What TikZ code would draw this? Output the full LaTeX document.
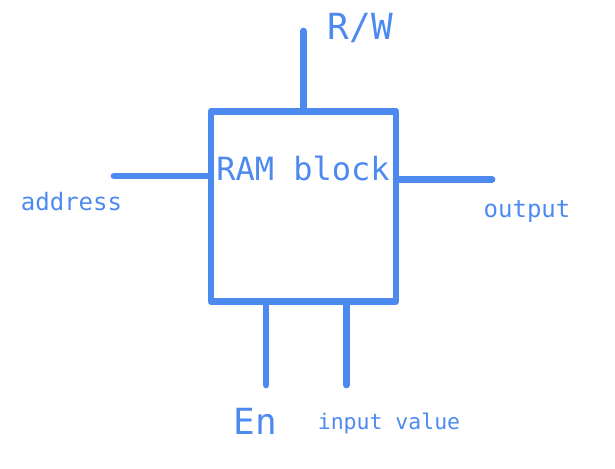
\documentclass[tikz,border=0pt]{standalone}
\usepackage{fontspec}
\setmonofont{DejaVu Sans Mono}
\definecolor{gblue}{HTML}{4D8AF0}
\tikzset{
  wire/.style={draw=gblue, line width=6.7pt, line cap=round},
  blockbox/.style={draw=gblue, line width=6.7pt, line join=round, inner sep=0pt, outer sep=0pt,
    minimum width=185pt, minimum height=190pt},
  lbl/.style={text=gblue, inner sep=0pt, outer sep=0pt, anchor=base, font=\ttfamily}
}
\begin{document}
\begin{tikzpicture}[x=1pt,y=-1pt]
\useasboundingbox (0,0) rectangle (615,468);
\node[blockbox] (ram) at (303.5,206.5) {};
\node[lbl, font=\ttfamily\fontsize{32}{36}\selectfont] (ramlbl) at (303,180) {RAM block};
\coordinate (rwEnd) at (303.5,31);
\coordinate (addrEnd) at (114,176);
\coordinate (outEnd) at (492,179.5);
\coordinate (enEnd) at (266,385);
\coordinate (inEnd) at (346.5,385);
\draw[wire] (rwEnd) -- (rwEnd |- ram.north);
\draw[wire] (addrEnd) -- (addrEnd -| ram.west);
\draw[wire] (outEnd) -- (outEnd -| ram.east);
\draw[wire] (enEnd) -- (enEnd |- ram.south);
\draw[wire] (inEnd) -- (inEnd |- ram.south);
\node[lbl, font=\ttfamily\fontsize{36}{40}\selectfont] (rw) at (360.5,40) {R/W};
\node[lbl, font=\ttfamily\fontsize{24}{28}\selectfont] (addr) at (71.5,210) {address};
\node[lbl, font=\ttfamily\fontsize{24}{28}\selectfont] (out) at (527,217) {output};
\node[lbl, font=\ttfamily\fontsize{36}{40}\selectfont] (en) at (255.5,434) {En};
\node[lbl, font=\ttfamily\fontsize{21.5}{25}\selectfont] (inval) at (389,429) {input value};
\end{tikzpicture}
\end{document}
